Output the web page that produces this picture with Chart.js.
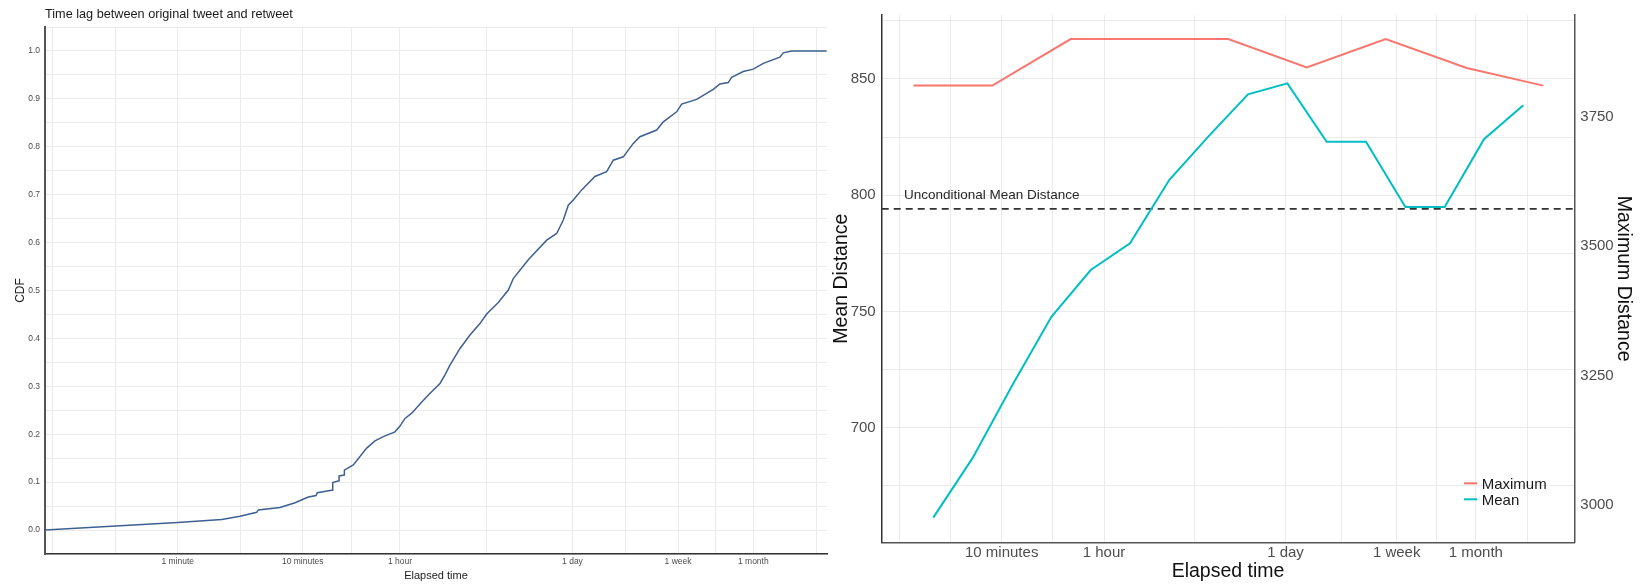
<!DOCTYPE html>
<html>
<head>
<meta charset="utf-8">
<script src="https://cdn.jsdelivr.net/npm/chart.js@4.4.1/dist/chart.umd.min.js"></script>
<style>
  html, body { margin: 0; padding: 0; background: #fff; }
  #wrap { position: relative; width: 1642px; height: 587px; }
  #cdf-chart { position: absolute; left: 0; top: 0; }
  #dist-chart { position: absolute; left: 830px; top: 0; }
</style>
</head>
<body>
<div id="wrap">
  <canvas id="cdf-chart" width="830" height="587"></canvas>
  <canvas id="dist-chart" width="812" height="587"></canvas>
</div>
<script>
// --- left panel: CDF of the retweet lag (elapsed seconds) ---
const lagSeconds = [5.2, 60, 135, 189, 257, 265, 395, 521, 665, 767, 785, 1024, 1040, 1043, 1171, 1173,
  1291, 1293, 1524, 1950, 2271, 2650, 3284, 3600, 3948, 4470, 5205, 6070, 7525, 8250, 9045, 10880,
  13070, 15710, 17790, 22030, 26500, 29050, 38290, 53730, 64580, 72960, 80000, 87700, 102400, 130700,
  162200, 183300, 220400, 265000, 299400, 407500, 460400, 589000, 646000, 851400, 1156000, 1307000,
  1524000, 1622000, 2009000, 2416000, 2905000, 3946000, 4199000, 4900000, 9336000];
const lagCdf = [0.000, 0.016, 0.022, 0.029, 0.037, 0.042, 0.047, 0.057, 0.069, 0.072, 0.078, 0.083, 0.083, 0.099, 0.103, 0.113,
  0.115, 0.125, 0.136, 0.171, 0.186, 0.195, 0.205, 0.217, 0.233, 0.244, 0.263, 0.282, 0.306, 0.324, 0.344, 0.379,
  0.407, 0.431, 0.451, 0.475, 0.501, 0.525, 0.564, 0.605, 0.619, 0.647, 0.678, 0.689, 0.710, 0.738,
  0.748, 0.772, 0.779, 0.807, 0.821, 0.835, 0.852, 0.873, 0.889, 0.899, 0.920, 0.931,
  0.934, 0.945, 0.957, 0.962, 0.974, 0.987, 0.996, 1.000, 1.000];

const cdfGridSeconds = [6, 19, 60, 190, 600, 1470, 3600, 17640, 86400, 228600, 604800, 1209600, 2419200, 7760000];
const cdfGridLabels = ['', '', '1 minute', '', '10 minutes', '', '1 hour', '', '1 day', '', '1 week', '', '1 month', ''];
const cdfYTicks = [-0.05, 0, 0.05, 0.1, 0.15, 0.2, 0.25, 0.3, 0.35, 0.4, 0.45, 0.5, 0.55, 0.6, 0.65, 0.7, 0.75, 0.8, 0.85, 0.9, 0.95, 1.0, 1.05];
const cdfYLabels = ['', '0.0', '', '0.1', '', '0.2', '', '0.3', '', '0.4', '', '0.5', '', '0.6', '', '0.7', '', '0.8', '', '0.9', '', '1.0', ''];

// --- right panel: mean / maximum distance by elapsed time ---
const meanSeconds = [181, 361, 719, 1433, 2851, 5673, 11310, 22510, 44790, 89290, 177660, 353520, 704940, 1402560, 2791200, 5554800];
const meanDistance = [661.3, 687, 718, 747.7, 767.8, 779.3, 806.6, 825.4, 843.4, 848.1, 823, 823, 794.9, 794.9, 824.1, 838.7];
const maxSeconds = [128, 509, 2008, 31720, 125200, 499300, 2062000, 7884000];
const maxDistance = [3810, 3810, 3900, 3900, 3845, 3900, 3844, 3810];
const unconditionalMean = 794.1;

const distGridSeconds = [100, 245, 600, 1470, 3600, 17640, 86400, 228600, 604800, 1209600, 2419200, 6000000];
const distGridLabels = ['', '', '10 minutes', '', '1 hour', '', '1 day', '', '1 week', '', '1 month', ''];
const meanTicks = [675, 700, 725, 750, 775, 800, 825, 850, 875];
const meanTickLabels = ['', '700', '', '750', '', '800', '', '850', ''];
const maxTicks = [3000, 3250, 3500, 3750];

Chart.defaults.font.family = '"Liberation Sans", Arial, sans-serif';
Chart.defaults.animation = false;

const GRID = '#ebebeb';
const TICK = '#4d4d4d';

const fixTicks = (values) => (scale) => {
    scale.ticks = values.map(v => ({ value: v }));
};

const drawText = (ctx, text, x, y, font, color, align, rotation) => {
    ctx.save();
    ctx.font = font;
    ctx.fillStyle = color;
    ctx.textAlign = align;
    ctx.textBaseline = 'alphabetic';
    ctx.translate(x, y);
    if (rotation) ctx.rotate(rotation);
    ctx.fillText(text, 0, 0);
    ctx.restore();
};

// Texto do painel esquerdo
const cdfTexts = {
    id: 'cdfTexts',
    afterDraw(chart) {
        const { ctx, chartArea: a } = chart;
        const midY = (a.top + a.bottom) / 2;
        const midX = (a.left + a.right) / 2;
        drawText(ctx, 'Time lag between original tweet and retweet', a.left, 18.3, '12.7px "Liberation Sans"', '#1a1a1a', 'left');
        drawText(ctx, 'CDF', 24, midY, '12px "Liberation Sans"', '#1a1a1a', 'center', -Math.PI / 2);
        drawText(ctx, 'Elapsed time', midX, 579.3, '11px "Liberation Sans"', '#1a1a1a', 'center');
    }
};

new Chart(document.getElementById('cdf-chart'), {
    type: 'line',
    data: {
        datasets: [{
            label: 'CDF',
            data: lagSeconds.map((s, i) => ({ x: s, y: lagCdf[i] })),
            borderColor: '#3d6092',
            borderWidth: 1.5,
            pointRadius: 0,
            tension: 0,
        }]
    },
    options: {
        responsive: false,
        layout: { padding: { top: 27, right: 3, left: 0, bottom: 0 } },
        plugins: { legend: { display: false }, tooltip: { enabled: false } },
        scales: {
            x: {
                type: 'logarithmic',
                bounds: 'data',
                min: 5.2,
                max: 9.4e6,
                afterBuildTicks: fixTicks(cdfGridSeconds),
                afterFit: s => { s.height = 33; },
                grid: { color: GRID, lineWidth: 1, drawTicks: false },
                border: { display: true, color: '#333', width: 1.5 },
                ticks: {
                    autoSkip: false, maxRotation: 0, padding: 3,
                    color: TICK, font: { size: 8.5 },
                    callback: (v, i) => cdfGridLabels[i]
                }
            },
            y: {
                type: 'linear',
                bounds: 'data',
                min: -0.05,
                max: 1.05,
                afterBuildTicks: fixTicks(cdfYTicks),
                afterFit: s => { s.width = 45; },
                grid: { color: GRID, lineWidth: 1, drawTicks: false },
                border: { display: true, color: '#555', width: 2 },
                ticks: {
                    autoSkip: false, padding: 5,
                    color: TICK, font: { size: 8.5 },
                    callback: (v, i) => cdfYLabels[i]
                }
            }
        }
    },
    plugins: [cdfTexts]
});

// Linha tracejada, rótulos e legenda do painel direito
const distExtras = {
    id: 'distExtras',
    beforeDatasetsDraw(chart) {
        const { ctx, chartArea: a, scales } = chart;
        const yPx = scales.y.getPixelForValue(unconditionalMean);
        ctx.save();
        ctx.strokeStyle = '#333';
        ctx.lineWidth = 1.8;
        ctx.setLineDash([7, 5]);
        ctx.beginPath();
        ctx.moveTo(a.left, yPx);
        ctx.lineTo(a.right, yPx);
        ctx.stroke();
        ctx.restore();
        drawText(ctx, 'Unconditional Mean Distance', a.left + 22.3, yPx - 9.7, '13.5px "Liberation Sans"', '#262626', 'left');
    },
    afterDraw(chart) {
        const { ctx, chartArea: a } = chart;
        const midY = (a.top + a.bottom) / 2;
        const midX = (a.left + a.right) / 2;
        drawText(ctx, 'Elapsed time', midX, 577.3, '19.5px "Liberation Sans"', '#111', 'center');
        drawText(ctx, 'Mean Distance', 16.7, midY, '19.5px "Liberation Sans"', '#111', 'center', -Math.PI / 2);
        drawText(ctx, 'Maximum Distance', 788.3, midY, '19.5px "Liberation Sans"', '#111', 'center', Math.PI / 2);

        // legenda dentro da área do gráfico, canto inferior direito
        const keyX = a.right - 110.3;
        chart.data.datasets.forEach((ds, i) => {
            const y = a.bottom - 59 + i * 16;
            ctx.save();
            ctx.strokeStyle = ds.borderColor;
            ctx.lineWidth = 2;
            ctx.beginPath();
            ctx.moveTo(keyX, y);
            ctx.lineTo(keyX + 13.3, y);
            ctx.stroke();
            ctx.restore();
            drawText(ctx, ds.label, keyX + 17.7, y + 5.3, '15px "Liberation Sans"', '#1a1a1a', 'left');
        });
    }
};

new Chart(document.getElementById('dist-chart'), {
    type: 'line',
    data: {
        datasets: [{
            label: 'Maximum',
            data: maxSeconds.map((s, i) => ({ x: s, y: maxDistance[i] })),
            yAxisID: 'y2',
            borderColor: '#F8766D',
            borderWidth: 2,
            pointRadius: 0,
            tension: 0,
        }, {
            label: 'Mean',
            data: meanSeconds.map((s, i) => ({ x: s, y: meanDistance[i] })),
            yAxisID: 'y',
            borderColor: '#00BFC4',
            borderWidth: 2,
            pointRadius: 0,
            tension: 0,
        }]
    },
    options: {
        responsive: false,
        layout: { padding: { top: 15, right: 0, left: 0, bottom: 0 } },
        plugins: { legend: { display: false }, tooltip: { enabled: false } },
        scales: {
            x: {
                type: 'logarithmic',
                bounds: 'data',
                min: 73.4,
                max: 1.357e7,
                afterBuildTicks: fixTicks(distGridSeconds),
                afterFit: s => { s.height = 44.7; },
                grid: { color: GRID, lineWidth: 1, drawTicks: false },
                border: { display: true, color: '#555', width: 1.5 },
                ticks: {
                    autoSkip: false, maxRotation: 0, padding: 2,
                    color: TICK, font: { size: 15 },
                    callback: (v, i) => distGridLabels[i]
                }
            },
            y: {
                type: 'linear',
                position: 'left',
                bounds: 'data',
                min: 650.7,
                max: 877.5,
                afterBuildTicks: fixTicks(meanTicks),
                afterFit: s => { s.width = 51.7; },
                grid: { color: GRID, lineWidth: 1, drawTicks: false },
                border: { display: true, color: '#333', width: 1.5 },
                ticks: {
                    autoSkip: false, padding: 6,
                    color: TICK, font: { size: 15 },
                    callback: (v, i) => meanTickLabels[i]
                }
            },
            y2: {
                type: 'linear',
                position: 'right',
                bounds: 'data',
                min: 2927.9,
                max: 3946.4,
                afterBuildTicks: fixTicks(maxTicks),
                afterFit: s => { s.width = 67.7; },
                grid: { display: false, drawTicks: false },
                border: { display: true, color: '#555', width: 1.5 },
                ticks: {
                    autoSkip: false, padding: 6,
                    color: TICK, font: { size: 15 },
                    callback: v => String(v)
                }
            }
        }
    },
    plugins: [distExtras]
});
</script>
</body>
</html>
